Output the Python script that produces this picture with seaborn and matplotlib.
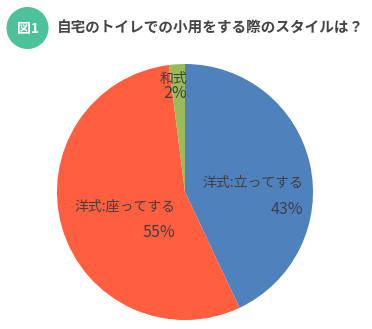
import matplotlib
matplotlib.use("Agg")
import matplotlib.pyplot as plt
import seaborn as sns
from matplotlib.patches import Circle

sns.set_theme(style="white")
plt.rcParams['font.family'] = ['Noto Sans CJK JP', 'DejaVu Sans']

title = "自宅のトイレでの小用をする際のスタイルは？"
badge = "図1"
categories = ["洋式:立ってする", "洋式:座ってする", "和式"]
values = [43, 55, 2]
pct_labels = ["43%", "55%", "2%"]
colors = ["#4F81BD", "#FF5F3F", "#9BBB59"]

W, H = 372, 329
fig = plt.figure(figsize=(W / 100, H / 100), dpi=100)
fig.patch.set_facecolor("white")

cx, cy, r = 185, 192, 128
ax = fig.add_axes([(cx - r) / W, (H - cy - r) / H, 2 * r / W, 2 * r / H])
ax.pie(values, colors=sns.color_palette(colors), startangle=90, counterclock=False,
       wedgeprops=dict(linewidth=0))
ax.set_xlim(-1, 1)
ax.set_ylim(-1, 1)
ax.set_aspect("equal")
ax.axis("off")

# label positions (data coords)
pos = [((0.922, 0.070), (0.922, -0.133)),
       ((-0.078, -0.117), (-0.078, -0.32)),
       ((0.016, 0.883), (0.016, 0.766))]
for cat, pl, (p1, p2) in zip(categories, pct_labels, pos):
    ax.text(p1[0], p1[1], cat, ha="right", va="center", fontsize=10, color="#404040")
    ax.text(p2[0], p2[1], pl, ha="right", va="center", fontsize=11.5, color="#404040")

# title badge
bax = fig.add_axes([0, 0, 1, 1])
bax.set_xlim(0, W)
bax.set_ylim(H, 0)
bax.axis("off")
bax.patch.set_alpha(0)
bax.add_patch(Circle((27.5, 28), 21, color="#4DC29A", linewidth=0))
bax.text(27.5, 28.5, badge, ha="center", va="center", fontsize=10, fontweight="bold", color="white")
bax.text(57, 28, title, ha="left", va="center", fontsize=10.5, fontweight="bold", color="#444444")

fig.savefig("out.png", dpi=100)
